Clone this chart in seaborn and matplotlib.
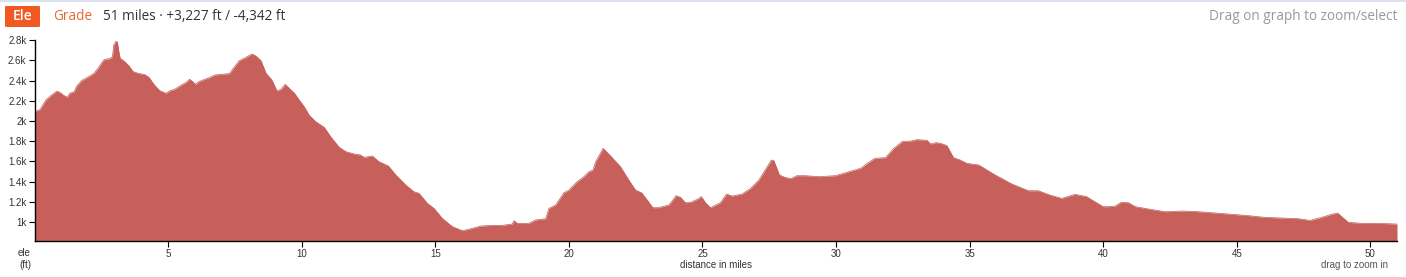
import matplotlib
matplotlib.use("Agg")
import matplotlib.pyplot as plt
from matplotlib.patches import FancyBboxPatch
import seaborn as sns
import pandas as pd

distance_mi = [0.0, 0.05, 0.2, 0.42, 0.63, 0.82, 0.92, 1.07, 1.22, 1.31, 1.48, 1.56, 1.75, 2.0, 2.22, 2.37,
               2.58, 2.71, 2.81, 2.91, 2.96, 3.03, 3.09, 3.16, 3.2, 3.37, 3.53, 3.68, 3.87, 4.12, 4.28,
               4.45, 4.68, 4.92, 5.05, 5.26, 5.49, 5.65, 5.8, 5.92, 6.02, 6.14, 6.36, 6.54, 6.73, 6.98,
               7.29, 7.48, 7.66, 7.89, 8.13, 8.28, 8.47, 8.66, 8.88, 9.07, 9.22, 9.38, 9.53, 9.71, 9.9,
               10.09, 10.27, 10.52, 10.84, 11.08, 11.4, 11.65, 11.96, 12.2, 12.33, 12.64, 12.89, 13.24,
               13.52, 13.89, 14.2, 14.39, 14.7, 14.95, 15.26, 15.64, 16.01, 16.13, 16.38, 16.69, 17.13,
               17.5, 17.88, 17.94, 18.07, 18.5, 18.75, 19.13, 19.25, 19.5, 19.81, 20.0, 20.12, 20.31,
               20.56, 20.75, 20.9, 21.0, 21.28, 21.56, 21.93, 22.24, 22.49, 22.72, 22.93, 23.14, 23.34,
               23.74, 23.87, 24.01, 24.18, 24.36, 24.55, 24.8, 24.96, 25.11, 25.3, 25.67, 25.9, 26.11,
               26.48, 26.8, 27.11, 27.36, 27.58, 27.67, 27.88, 28.08, 28.29, 28.54, 28.85, 29.35, 29.98,
               30.49, 30.92, 31.17, 31.45, 31.85, 32.16, 32.47, 32.79, 33.03, 33.41, 33.53, 33.74, 33.91,
               34.15, 34.4, 34.65, 34.9, 35.34, 35.96, 36.58, 37.2, 37.57, 38.01, 38.45, 38.94, 39.38,
               39.69, 40.0, 40.2, 40.45, 40.67, 40.95, 41.2, 41.7, 42.32, 43.0, 43.57, 44.56, 45.44,
               46.06, 46.68, 47.31, 47.74, 48.18, 48.55, 48.78, 48.93, 49.18, 49.68, 50.3, 51.0]
elevation_ft = [2095, 2100, 2115, 2209, 2258, 2295, 2288, 2258, 2235, 2275, 2291, 2341, 2400, 2437, 2473, 2523,
                2605, 2615, 2618, 2638, 2754, 2787, 2787, 2671, 2622, 2589, 2546, 2490, 2473, 2460, 2433,
                2367, 2301, 2275, 2298, 2318, 2357, 2380, 2414, 2390, 2364, 2390, 2414, 2430, 2456, 2463,
                2470, 2539, 2599, 2628, 2665, 2645, 2599, 2473, 2407, 2298, 2315, 2364, 2324, 2281, 2209,
                2143, 2060, 1994, 1938, 1845, 1740, 1697, 1674, 1664, 1641, 1654, 1598, 1555,
                1466, 1367, 1300, 1284, 1185, 1135, 1036, 954, 914, 921, 937, 960, 967,
                967, 980, 1013, 987, 987, 1020, 1033, 1135, 1168, 1290, 1317, 1350, 1400,
                1449, 1499, 1515, 1598, 1730, 1654, 1548, 1416, 1317, 1290, 1218, 1142, 1142,
                1168, 1211, 1261, 1244, 1191, 1195, 1224, 1251, 1191, 1142, 1191, 1277, 1257,
                1277, 1333, 1416, 1522, 1614, 1608, 1466, 1443, 1429, 1459, 1459, 1449, 1459,
                1499, 1532, 1581, 1631, 1637, 1730, 1796, 1802, 1816, 1809, 1773, 1786, 1780,
                1756, 1637, 1614, 1581, 1565, 1466, 1377, 1310, 1310, 1267, 1234, 1274, 1251,
                1201, 1152, 1152, 1158, 1195, 1191, 1152, 1129, 1102, 1109, 1102, 1082, 1063,
                1046, 1040, 1033, 1016, 1046, 1076, 1089, 1053, 997, 987, 987, 980]

x_ticks = [5, 10, 15, 20, 25, 30, 35, 40, 45, 50]
y_ticks = [1000, 1200, 1400, 1600, 1800, 2000, 2200, 2400, 2600, 2800]
y_tick_labels = ["1k", "1.2k", "1.4k", "1.6k", "1.8k", "2k", "2.2k", "2.4k", "2.6k", "2.8k"]

df = pd.DataFrame({"distance": distance_mi, "ele": elevation_ft})

sns.set_style("white")
plt.rcParams["font.family"] = ["Liberation Sans", "DejaVu Sans"]

W, H = 1406, 277
fig = plt.figure(figsize=(W / 100, H / 100), dpi=100)
ax = fig.add_axes([34.7 / W, 1 - 241 / H, (1397 - 34.7) / W, (241 - 40.3) / H])

fill_col = "#c75f5b"
ymin = 812
ax.fill_between(df["distance"], df["ele"], ymin, color=fill_col, linewidth=0)
sns.lineplot(data=df, x="distance", y="ele", ax=ax, color="#c35a56", linewidth=0.5)

ax.set_xlim(0, 51.0)
ax.set_ylim(ymin, 2800)
ax.set_xticks(x_ticks)
ax.set_xticklabels([str(t) for t in x_ticks])
ax.set_yticks(y_ticks)
ax.set_yticklabels(y_tick_labels)
ax.set_xlabel("")
ax.set_ylabel("")
for s in ["top", "right"]:
    ax.spines[s].set_visible(False)
for s in ["left", "bottom"]:
    ax.spines[s].set_color("#000000")
    ax.spines[s].set_linewidth(1.0)
ax.tick_params(axis="both", which="major", length=4, width=0.8, color="#000000",
               labelsize=7, labelcolor="#333333", pad=2, left=True, bottom=True)

# header
def fy(py):
    return 1 - py / H

btn = FancyBboxPatch((5 / W, fy(27)), 35 / W, 21 / H,
                     boxstyle="round,pad=0,rounding_size=0.002",
                     transform=fig.transFigure, facecolor="#f05a22", edgecolor="none")
fig.patches.append(btn)
hdr = ["Open Sans", "DejaVu Sans"]
fig.text(22.5 / W, fy(16.5), "Ele", color="white", fontsize=10, fontweight="semibold",
         ha="center", va="center", family=hdr)
fig.text(53 / W, fy(17), "Grade", color="#e8692f", fontsize=9.8, ha="left", va="center",
         family=hdr)
fig.text(103 / W, fy(17), "51 miles · +3,227 ft / -4,342 ft", color="#333333", fontsize=9.8,
         ha="left", va="center", family=hdr)
fig.text(1397 / W, fy(17), "Drag on graph to zoom/select", color="#999999", fontsize=9.8,
         ha="right", va="center", family=hdr)

# axis captions
fig.text(24 / W, fy(253), "ele", color="#333333", fontsize=7, ha="center", va="center")
fig.text(25 / W, fy(265), "(ft)", color="#333333", fontsize=7, ha="center", va="center")
fig.text(716 / W, fy(265), "distance in miles", color="#333333", fontsize=7, ha="center", va="center")
fig.text(1388 / W, fy(265), "drag to zoom in", color="#555555", fontsize=7, ha="right", va="center")

# top border line
fig.add_artist(plt.Line2D([0, 1], [1 - 0.5 / H, 1 - 0.5 / H], transform=fig.transFigure,
                          color="#d3ddee", linewidth=1.2))

fig.savefig("out.png", dpi=100)
